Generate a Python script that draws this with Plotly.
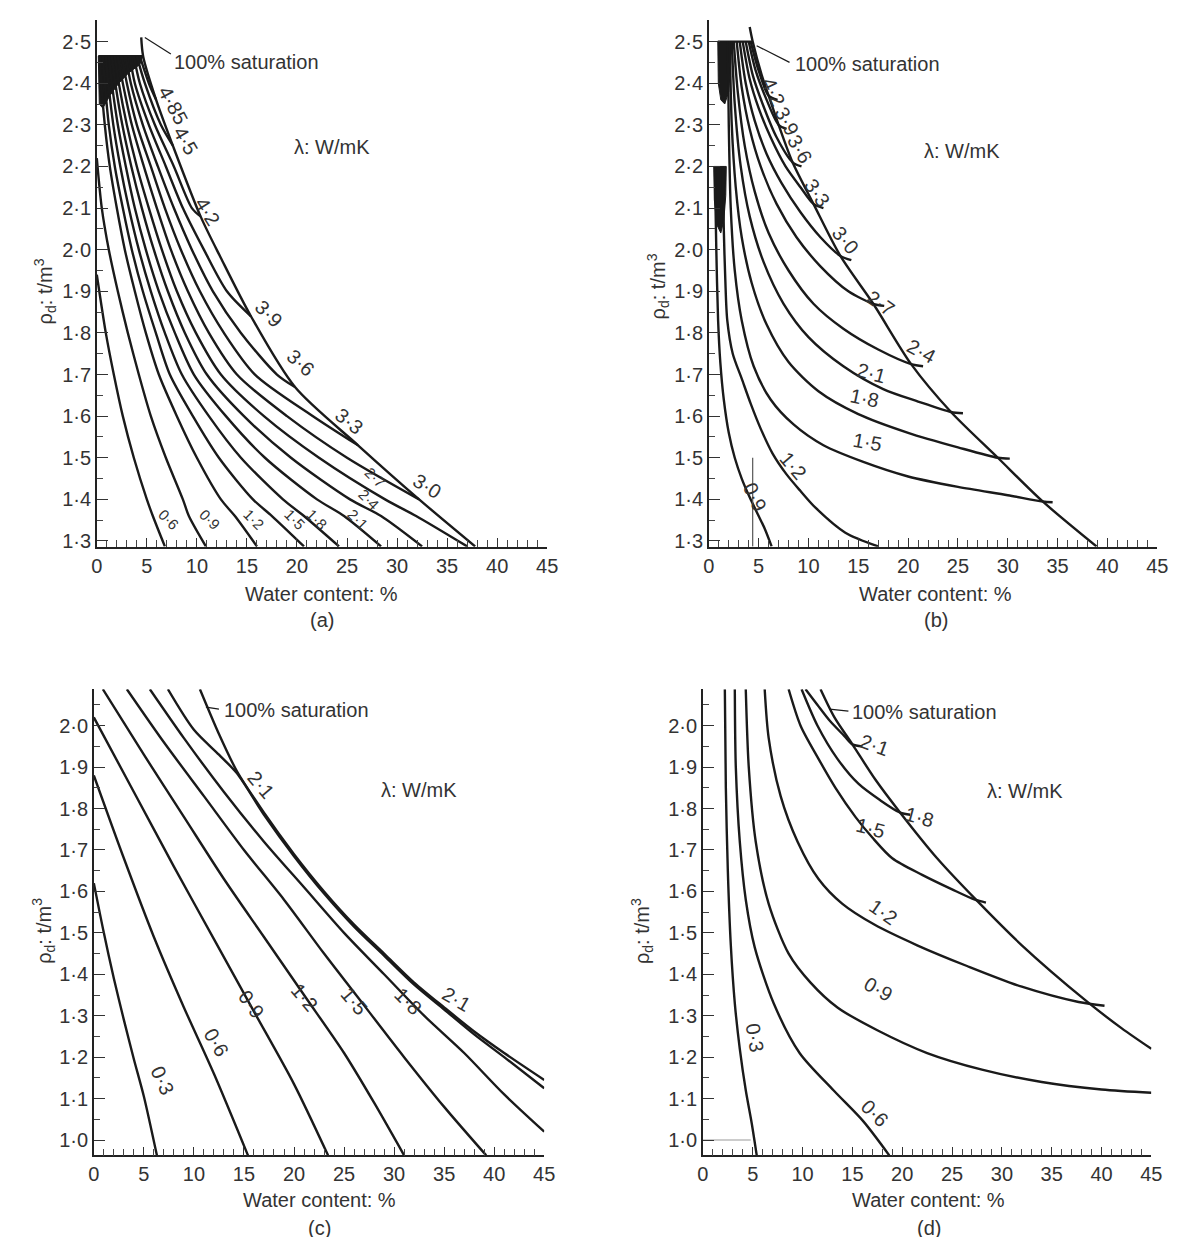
import plotly.graph_objects as go

# ---------------- DATA ----------------
# Panel (a)
A_SAT_X = [4.44, 4.63, 5.93, 7.6, 10.37, 12.4, 15.4, 19.8, 26.1, 32.2, 37.8]
A_SAT_Y = [2.51, 2.465, 2.36, 2.25, 2.08, 1.98, 1.84, 1.67, 1.53, 1.40, 1.287]
A_L06_X = [0, 0.25, 0.9, 1.7, 2.6, 3.7, 5.0, 5.6, 6.8]
A_L06_Y = [1.94, 1.9, 1.8, 1.7, 1.6, 1.5, 1.4, 1.36, 1.287]
A_L09_X = [0, 0.5, 1.2, 2.1, 3.1, 4.2, 5.4, 6.9, 8.6, 9.2, 10.9]
A_L09_Y = [2.22, 2.1, 2.0, 1.9, 1.8, 1.7, 1.6, 1.5, 1.4, 1.36, 1.287]
A_LEVELS = [2.465, 2.4, 2.3, 2.2, 2.1, 2.0, 1.9, 1.8, 1.7, 1.6, 1.5, 1.4, 1.36, 1.287]
A_L12_X = [0.3, 0.45, 0.8, 1.3, 2.0, 2.8, 3.8, 4.9, 6.2, 8.0, 10.0, 12.4, 13.8, 16.0]
A_L15_X = [0.6, 0.8, 1.2, 1.8, 2.6, 3.5, 4.6, 5.9, 7.3, 9.6, 12.2, 15.6, 17.5, 20.7]
A_L18_X = [0.9, 1.15, 1.65, 2.35, 3.2, 4.2, 5.4, 6.8, 8.5, 11.2, 14.4, 18.6, 20.7, 24.2]
A_L21_X = [1.2, 1.5, 2.1, 2.9, 3.8, 4.9, 6.2, 7.8, 9.7, 12.9, 16.8, 22.0, 24.7, 28.4]
A_L24_X = [1.5, 1.85, 2.55, 3.45, 4.5, 5.7, 7.1, 8.8, 11.0, 14.7, 19.4, 25.3, 28.4, 32.5]
A_L27_X = [1.8, 2.2, 3.0, 4.0, 5.2, 6.5, 8.0, 9.9, 12.4, 16.7, 22.2, 28.8, 31.9, 37.0]
A_L30_X = [2.1, 2.6, 3.5, 4.7, 6.0, 7.4, 9.1, 11.2, 14.0, 19.0, 25.0, 32.2]
A_L30_Y = [2.465, 2.4, 2.3, 2.2, 2.1, 2.0, 1.9, 1.8, 1.7, 1.6, 1.5, 1.40]
A_L33_X = [2.5, 3.0, 4.0, 5.4, 6.8, 8.4, 10.3, 12.7, 15.8, 21.6, 26.1]
A_L33_Y = [2.465, 2.4, 2.3, 2.2, 2.1, 2.0, 1.9, 1.8, 1.7, 1.6, 1.53]
A_L36_X = [2.9, 3.4, 4.6, 6.1, 7.7, 9.5, 11.6, 14.4, 18.0, 19.8]
A_L36_Y = [2.465, 2.4, 2.3, 2.2, 2.1, 2.0, 1.9, 1.8, 1.7, 1.67]
A_L39_X = [3.3, 3.8, 5.2, 6.9, 8.6, 10.7, 13.0, 15.4]
A_L39_Y = [2.465, 2.4, 2.3, 2.2, 2.1, 2.0, 1.9, 1.84]
A_L42_X = [3.7, 4.3, 5.8, 7.7, 9.5, 10.37]
A_L42_Y = [2.465, 2.4, 2.3, 2.2, 2.1, 2.08]
A_L45_X = [4.0, 4.8, 6.4, 7.6]
A_L45_Y = [2.465, 2.4, 2.3, 2.25]
A_L485_X = [4.3, 5.2, 5.93]
A_L485_Y = [2.465, 2.4, 2.36]
A_TOP_X = [0.15, 4.6]
A_TOP_Y = [2.465, 2.465]
A_BLOCK_X = [0.15, 4.6, 4.3, 3.2, 2.2, 1.3, 0.6, 0.25, 0.15]
A_BLOCK_Y = [2.465, 2.465, 2.445, 2.425, 2.40, 2.37, 2.34, 2.35, 2.465]
A_LEAD_X = [4.8, 7.4]
A_LEAD_Y = [2.51, 2.47]

# Panel (b)
B_SAT_X = [4.1, 4.4, 5.3, 6.0, 7.0, 8.4, 10.5, 13.2, 16.5, 20.3, 24.3, 29.0, 33.5, 38.9]
B_SAT_Y = [2.535, 2.5, 2.42, 2.37, 2.30, 2.21, 2.11, 1.985, 1.87, 1.725, 1.61, 1.50, 1.395, 1.287]
B_L09_X = [0.6, 0.75, 0.93, 1.15, 1.5, 2.0, 2.6, 3.3, 4.1, 5.0, 5.6, 6.3]
B_L09_Y = [2.2, 2.0, 1.83, 1.73, 1.64, 1.56, 1.50, 1.45, 1.405, 1.36, 1.33, 1.287]
B_L12_X = [1.4, 1.5, 1.65, 1.85, 2.4, 3.3, 4.2, 5.2, 6.4, 7.8, 9.2, 10.7, 13.7, 17.0]
B_L12_Y = [2.2, 2.05, 1.93, 1.83, 1.75, 1.69, 1.63, 1.57, 1.51, 1.46, 1.42, 1.38, 1.32, 1.287]
B_L15_X = [1.9, 2.0, 2.2, 2.6, 3.3, 4.5, 6.2, 8.5, 11.5, 15.5, 20.0, 25.0, 30.0, 33.5, 34.5]
B_L15_Y = [2.5, 2.3, 2.1, 1.95, 1.83, 1.72, 1.64, 1.58, 1.53, 1.49, 1.455, 1.43, 1.41, 1.395, 1.393]
B_L18_X = [2.1, 2.3, 2.7, 3.3, 4.3, 5.8, 8.0, 11.0, 15.0, 20.0, 25.0, 29.0, 30.2]
B_L18_Y = [2.5, 2.3, 2.15, 2.03, 1.92, 1.82, 1.73, 1.66, 1.605, 1.56, 1.525, 1.50, 1.498]
B_L21_X = [2.3, 2.6, 3.2, 4.1, 5.5, 7.5, 10.0, 13.5, 17.5, 21.0, 24.3, 25.5]
B_L21_Y = [2.5, 2.35, 2.2, 2.08, 1.97, 1.87, 1.79, 1.72, 1.665, 1.635, 1.61, 1.607]
B_L24_X = [2.5, 2.9, 3.6, 4.6, 6.0, 8.0, 10.5, 13.5, 17.0, 20.3, 21.5]
B_L24_Y = [2.5, 2.38, 2.25, 2.14, 2.04, 1.95, 1.87, 1.81, 1.76, 1.725, 1.72]
B_L27_X = [2.8, 3.3, 4.1, 5.2, 6.8, 8.8, 11.2, 14.0, 16.5, 17.6]
B_L27_Y = [2.5, 2.39, 2.29, 2.20, 2.11, 2.03, 1.96, 1.90, 1.87, 1.865]
B_L30_X = [3.1, 3.7, 4.6, 5.8, 7.3, 9.2, 11.2, 13.2, 14.3]
B_L30_Y = [2.5, 2.40, 2.31, 2.23, 2.16, 2.09, 2.03, 1.985, 1.975]
B_L33_X = [3.4, 4.1, 5.0, 6.2, 7.7, 9.2, 10.5, 11.5]
B_L33_Y = [2.5, 2.41, 2.34, 2.27, 2.20, 2.15, 2.11, 2.10]
B_L36_X = [3.7, 4.4, 5.4, 6.8, 8.4, 9.3]
B_L36_Y = [2.5, 2.42, 2.35, 2.27, 2.21, 2.20]
B_L39_X = [4.0, 4.7, 5.8, 7.0, 7.8]
B_L39_Y = [2.5, 2.43, 2.36, 2.30, 2.29]
B_L42_X = [4.2, 5.0, 6.0, 6.9]
B_L42_Y = [2.5, 2.43, 2.37, 2.36]
B_TOP_X = [0.9, 4.4]
B_TOP_Y = [2.5, 2.5]
B_BLOCK1_X = [0.9, 2.2, 2.2, 2.0, 1.6, 1.2, 0.95, 0.9]
B_BLOCK1_Y = [2.5, 2.5, 2.45, 2.38, 2.35, 2.36, 2.40, 2.5]
B_BLOCK2_X = [0.5, 1.75, 1.7, 1.5, 1.2, 0.8, 0.55, 0.5]
B_BLOCK2_Y = [2.2, 2.2, 2.13, 2.07, 2.04, 2.06, 2.12, 2.2]
B_LEAD_X = [4.8, 8.1]
B_LEAD_Y = [2.49, 2.45]
B_VLINE_X = [4.4, 4.4]
B_VLINE_Y = [1.50, 1.287]

# Panel (c)
C_L03_X = [0, 1, 2, 3, 4, 5, 6.3]
C_L03_Y = [1.62, 1.50, 1.39, 1.29, 1.195, 1.105, 0.963]
C_L06_X = [0, 3, 6, 9, 12, 15.4]
C_L06_Y = [1.88, 1.68, 1.49, 1.32, 1.16, 0.963]
C_L09_X = [0, 4, 8, 12, 16, 20, 23.4]
C_L09_Y = [2.02, 1.84, 1.66, 1.485, 1.31, 1.135, 0.963]
C_L12_X = [0.9, 5, 9, 13, 17, 21, 25, 28, 31.0]
C_L12_Y = [2.088, 1.93, 1.78, 1.63, 1.49, 1.35, 1.21, 1.09, 0.963]
C_L15_X = [3.3, 7, 11, 15, 19, 23, 27, 31, 35, 39.2]
C_L15_Y = [2.088, 1.96, 1.83, 1.70, 1.58, 1.45, 1.325, 1.20, 1.08, 0.963]
C_L18_X = [5.6, 9, 13, 17, 21, 25, 29, 33, 37, 41, 45]
C_L18_Y = [2.088, 1.97, 1.84, 1.72, 1.61, 1.50, 1.40, 1.30, 1.21, 1.11, 1.02]
C_L21_X = [7.4, 10, 12.5, 14.3, 17, 20, 23, 26, 29, 32, 35, 38, 41, 45]
C_L21_Y = [2.088, 1.99, 1.93, 1.885, 1.785, 1.685, 1.595, 1.515, 1.445, 1.375, 1.315, 1.255, 1.20, 1.125]
C_SAT_X = [10.6, 12.5, 14.3, 17, 20, 23, 26, 29, 32, 35, 38, 41, 45]
C_SAT_Y = [2.088, 1.98, 1.89, 1.79, 1.69, 1.60, 1.52, 1.45, 1.38, 1.32, 1.262, 1.21, 1.145]
C_LEAD_X = [11.2, 12.5]
C_LEAD_Y = [2.045, 2.04]

# Panel (d)
D_L03_X = [2.2, 2.3, 2.5, 2.8, 3.2, 3.7, 4.3, 4.9, 5.4]
D_L03_Y = [2.088, 1.85, 1.65, 1.47, 1.33, 1.22, 1.12, 1.04, 0.963]
D_L06_X = [3.2, 3.3, 3.7, 4.3, 5.2, 7.1, 9.7, 13.1, 16.1, 18.7]
D_L06_Y = [2.088, 1.90, 1.72, 1.58, 1.465, 1.33, 1.21, 1.12, 1.045, 0.963]
D_L09_X = [4.3, 4.6, 5.3, 6.6, 8.6, 10.8, 13.5, 17.5, 22.5, 28, 34, 40, 45]
D_L09_Y = [2.088, 1.90, 1.72, 1.57, 1.45, 1.38, 1.32, 1.265, 1.21, 1.17, 1.14, 1.122, 1.114]
D_L12_X = [6.2, 6.6, 7.8, 9.5, 11.6, 14.0, 17.2, 21.5, 26.5, 32.0, 37.7, 40.3]
D_L12_Y = [2.088, 1.97, 1.83, 1.72, 1.63, 1.57, 1.52, 1.47, 1.42, 1.37, 1.333, 1.324]
D_L15_X = [8.6, 9.8, 11.6, 13.3, 15.3, 17.0, 19.0, 22.0, 25.0, 27.3, 28.4]
D_L15_Y = [2.088, 2.0, 1.92, 1.85, 1.78, 1.73, 1.68, 1.64, 1.605, 1.58, 1.573]
D_L18_X = [9.9, 11.5, 13.5, 15.6, 17.8, 19.8, 20.8]
D_L18_Y = [2.088, 2.0, 1.92, 1.86, 1.82, 1.79, 1.785]
D_L21_X = [10.3, 11.5, 12.8, 14.2, 15.0, 16.0]
D_L21_Y = [2.088, 2.05, 2.01, 1.975, 1.955, 1.95]
D_SAT_X = [11.8, 13.2, 15.0, 17.3, 19.8, 23.5, 27.4, 32.0, 38.4, 42.0, 45.0]
D_SAT_Y = [2.088, 2.02, 1.955, 1.87, 1.79, 1.68, 1.58, 1.47, 1.337, 1.27, 1.22]
D_GRAY_X = [0, 4.8]
D_GRAY_Y = [1.0, 1.0]
D_LEAD_X = [12.7, 14.6]
D_LEAD_Y = [2.04, 2.035]

# Tick labels
AB_TICKVALS = [1.3, 1.4, 1.5, 1.6, 1.7, 1.8, 1.9, 2.0, 2.1, 2.2, 2.3, 2.4, 2.5]
AB_TICKTEXT = ["1·3", "1·4", "1·5", "1·6", "1·7", "1·8", "1·9", "2·0", "2·1", "2·2", "2·3", "2·4", "2·5"]
CD_TICKVALS = [1.0, 1.1, 1.2, 1.3, 1.4, 1.5, 1.6, 1.7, 1.8, 1.9, 2.0]
CD_TICKTEXT = ["1·0", "1·1", "1·2", "1·3", "1·4", "1·5", "1·6", "1·7", "1·8", "1·9", "2·0"]

# ---------------- FIGURE ----------------
W, H = 1179, 1237
FONT = "Liberation Sans, Arial, sans-serif"
INK = "#1a1a1a"
TXT = "#333333"

fig = go.Figure()


def line(x, y, ax, width=2.4, color=INK, shape="spline"):
    fig.add_trace(go.Scatter(x=x, y=y, mode="lines", xaxis=ax[0], yaxis=ax[1],
                             line=dict(color=color, width=width, shape=shape, smoothing=0.8),
                             hoverinfo="skip", showlegend=False))


def block(x, y, ax):
    fig.add_trace(go.Scatter(x=x, y=y, mode="lines", fill="toself", fillcolor=INK,
                             xaxis=ax[0], yaxis=ax[1], line=dict(color=INK, width=1),
                             hoverinfo="skip", showlegend=False))


AX_A, AX_B, AX_C, AX_D = ("x", "y"), ("x2", "y2"), ("x3", "y3"), ("x4", "y4")

# (a)
block(A_BLOCK_X, A_BLOCK_Y, AX_A)
line(A_TOP_X, A_TOP_Y, AX_A, shape="linear")
for xs, ys in [(A_L06_X, A_L06_Y), (A_L09_X, A_L09_Y), (A_L12_X, A_LEVELS), (A_L15_X, A_LEVELS),
               (A_L18_X, A_LEVELS), (A_L21_X, A_LEVELS), (A_L24_X, A_LEVELS), (A_L27_X, A_LEVELS),
               (A_L30_X, A_L30_Y), (A_L33_X, A_L33_Y), (A_L36_X, A_L36_Y), (A_L39_X, A_L39_Y),
               (A_L42_X, A_L42_Y), (A_L45_X, A_L45_Y), (A_L485_X, A_L485_Y), (A_SAT_X, A_SAT_Y)]:
    line(xs, ys, AX_A)
line(A_LEAD_X, A_LEAD_Y, AX_A, width=1.2, shape="linear")

# (b)
block(B_BLOCK1_X, B_BLOCK1_Y, AX_B)
block(B_BLOCK2_X, B_BLOCK2_Y, AX_B)
line(B_TOP_X, B_TOP_Y, AX_B, shape="linear")
for xs, ys in [(B_L09_X, B_L09_Y), (B_L12_X, B_L12_Y), (B_L15_X, B_L15_Y), (B_L18_X, B_L18_Y),
               (B_L21_X, B_L21_Y), (B_L24_X, B_L24_Y), (B_L27_X, B_L27_Y), (B_L30_X, B_L30_Y),
               (B_L33_X, B_L33_Y), (B_L36_X, B_L36_Y), (B_L39_X, B_L39_Y), (B_L42_X, B_L42_Y),
               (B_SAT_X, B_SAT_Y)]:
    line(xs, ys, AX_B)
line(B_LEAD_X, B_LEAD_Y, AX_B, width=1.2, shape="linear")
line(B_VLINE_X, B_VLINE_Y, AX_B, width=1.2, color="#555", shape="linear")

# (c)
for xs, ys in [(C_L03_X, C_L03_Y), (C_L06_X, C_L06_Y), (C_L09_X, C_L09_Y), (C_L12_X, C_L12_Y),
               (C_L15_X, C_L15_Y), (C_L18_X, C_L18_Y), (C_L21_X, C_L21_Y), (C_SAT_X, C_SAT_Y)]:
    line(xs, ys, AX_C)
line(C_LEAD_X, C_LEAD_Y, AX_C, width=1.2, shape="linear")

# (d)
line(D_GRAY_X, D_GRAY_Y, AX_D, width=1.0, color="#999", shape="linear")
for xs, ys in [(D_L03_X, D_L03_Y), (D_L06_X, D_L06_Y), (D_L09_X, D_L09_Y), (D_L12_X, D_L12_Y),
               (D_L15_X, D_L15_Y), (D_L18_X, D_L18_Y), (D_L21_X, D_L21_Y), (D_SAT_X, D_SAT_Y)]:
    line(xs, ys, AX_D)
line(D_LEAD_X, D_LEAD_Y, AX_D, width=1.2, shape="linear")


def xcfg(px0, px1, anchor):
    return dict(domain=[px0 / W, px1 / W], range=[0, 45], anchor=anchor,
                tickmode="linear", tick0=0, dtick=5, ticks="inside", ticklen=9, tickwidth=1.2,
                tickcolor="#333", showline=True, linecolor="#222", linewidth=1.5,
                showgrid=False, zeroline=False,
                tickfont=dict(family=FONT, size=20, color=TXT),
                minor=dict(tickmode="linear", tick0=0, dtick=1, ticks="inside", ticklen=7,
                           tickwidth=1, tickcolor="#444", showgrid=False))


def ycfg(py_top, py_bot, rng, vals, texts, anchor, t0):
    return dict(domain=[1 - py_bot / H, 1 - py_top / H], range=rng, anchor=anchor,
                tickmode="array", tickvals=vals, ticktext=texts, ticks="inside", ticklen=11,
                tickwidth=1.2, tickcolor="#333", showline=True, linecolor="#222", linewidth=1.5,
                showgrid=False, zeroline=False,
                tickfont=dict(family=FONT, size=20, color=TXT),
                minor=dict(tickmode="linear", tick0=t0, dtick=0.05, ticks="inside", ticklen=6,
                           tickwidth=1, tickcolor="#444", showgrid=False))


ann = []


def txt(text, x, y, xref, yref, size=20, angle=None, xanchor="center", yanchor="middle"):
    d = dict(text=text, x=x, y=y, xref=xref, yref=yref, showarrow=False,
             xanchor=xanchor, yanchor=yanchor,
             font=dict(family=FONT, size=size, color=TXT))
    if angle:
        d["textangle"] = angle
    ann.append(d)


def ptxt(text, px, py, size=20, angle=None):
    txt(text, px / W, 1 - py / H, "paper", "paper", size=size, angle=angle)


# axis titles
for px, py, lab in [(312, 588, "Water content: %"), (312, 614, "(a)"),
                    (935, 588, "Water content: %"), (935, 614, "(b)"),
                    (310, 1197, "Water content: %"), (310, 1225, "(c)"),
                    (928, 1197, "Water content: %"), (928, 1225, "(d)")]:
    ptxt(lab, px, py)
for px, py in [(32, 285), (654, 280), (30, 927), (637, 927)]:
    ptxt("ρ<sub>d</sub>: t/m<sup>3</sup>", px, py, angle=-90)

# panel (a) annotations
txt("100% saturation", 7.5, 2.451, "x", "y", xanchor="left")
txt("λ: W/mK", 23.5, 2.247, "x", "y")
for t, x, y, a in [("4·85", 7.6, 2.347, 62), ("4·5", 8.9, 2.261, 60), ("4·2", 11.1, 2.091, 58),
                   ("3·9", 17.2, 1.845, 45), ("3·6", 20.4, 1.727, 42), ("3·3", 25.2, 1.589, 38),
                   ("3·0", 33.0, 1.433, 32)]:
    txt(t, x, y, "x", "y", angle=a)
for t, x, y in [("2·7", 27.8, 1.452), ("2·4", 27.2, 1.40), ("2·1", 26.1, 1.352), ("1·8", 22.0, 1.352),
                ("1·5", 19.8, 1.352), ("1·2", 15.7, 1.352), ("0·9", 11.3, 1.352), ("0·6", 7.2, 1.352)]:
    txt(t, x, y, "x", "y", size=15, angle=45)

# panel (b)
txt("100% saturation", 8.4, 2.446, "x2", "y2", xanchor="left")
txt("λ: W/mK", 25.4, 2.237, "x2", "y2")
for t, x, y, a in [("4·2", 6.5, 2.379, 65), ("3·9", 7.8, 2.308, 62), ("3·6", 9.1, 2.241, 60),
                   ("3·3", 10.9, 2.137, 55), ("3·0", 13.7, 2.023, 50), ("2·7", 17.2, 1.871, 35),
                   ("2·4", 21.3, 1.757, 28), ("2·1", 16.3, 1.704, 15), ("1·8", 15.6, 1.643, 12),
                   ("1·5", 15.9, 1.538, 10), ("1·2", 8.5, 1.481, 50), ("0·9", 4.6, 1.405, 65)]:
    txt(t, x, y, "x2", "y2", angle=a)

# panel (c)
txt("100% saturation", 12.8, 2.037, "x3", "y3", xanchor="left")
txt("λ: W/mK", 32.5, 1.846, "x3", "y3")
for t, x, y, a in [("2·1", 16.7, 1.856, 50), ("2·1", 36.2, 1.34, 30), ("1·8", 31.4, 1.336, 45),
                   ("1·5", 26.0, 1.336, 50), ("1·2", 21.0, 1.345, 50), ("0·9", 15.8, 1.327, 55),
                   ("0·6", 12.3, 1.235, 60), ("0·3", 6.9, 1.143, 65)]:
    txt(t, x, y, "x3", "y3", angle=a)

# panel (d)
txt("100% saturation", 14.8, 2.032, "x4", "y4", xanchor="left")
txt("λ: W/mK", 32.3, 1.843, "x4", "y4")
for t, x, y, a in [("2·1", 17.2, 1.953, 20), ("1·8", 21.7, 1.78, 15), ("1·5", 16.8, 1.752, 15),
                   ("1·2", 18.1, 1.551, 35), ("0·9", 17.6, 1.365, 30), ("0·6", 17.2, 1.064, 45),
                   ("0·3", 5.2, 1.246, 80)]:
    txt(t, x, y, "x4", "y4", angle=a)

fig.update_layout(
    width=W, height=H, margin=dict(l=0, r=0, t=0, b=0),
    paper_bgcolor="white", plot_bgcolor="white", showlegend=False,
    xaxis=xcfg(84, 541, "y"),
    yaxis=ycfg(12, 541, [1.286, 2.552], AB_TICKVALS, AB_TICKTEXT, "x", 1.3),
    xaxis2=xcfg(705, 1160, "y2"),
    yaxis2=ycfg(12, 541, [1.286, 2.552], AB_TICKVALS, AB_TICKTEXT, "x2", 1.3),
    xaxis3=xcfg(81, 538, "y3"),
    yaxis3=ycfg(684, 1152, [0.963, 2.088], CD_TICKVALS, CD_TICKTEXT, "x3", 1.0),
    xaxis4=xcfg(699, 1154, "y4"),
    yaxis4=ycfg(684, 1152, [0.963, 2.088], CD_TICKVALS, CD_TICKTEXT, "x4", 1.0),
    annotations=ann,
)

fig.write_html("out.html")
